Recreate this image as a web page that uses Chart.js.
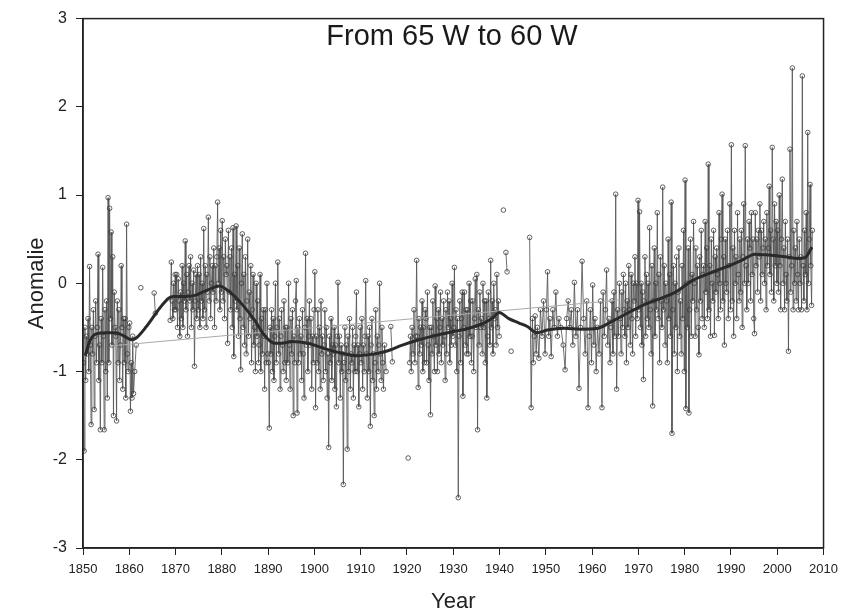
<!DOCTYPE html>
<html>
<head>
<meta charset="utf-8">
<script src="https://cdn.jsdelivr.net/npm/chart.js@4.4.1/dist/chart.umd.min.js"></script>
<style>
  html, body { margin: 0; padding: 0; background: #ffffff; }
  #wrap { width: 845px; height: 615px; }
</style>
</head>
<body>
<div id="wrap"><canvas id="c" width="845" height="615"></canvas></div>
<script>
// ---- Data ----
const chartTitle = "From 65 W to 60 W";
const xTitle = "Year";
const yTitle = "Anomalie";
const xTicks = [1850, 1860, 1870, 1880, 1890, 1900, 1910, 1920, 1930, 1940, 1950, 1960, 1970, 1980, 1990, 2000, 2010];
const yTicks = [-3, -2, -1, 0, 1, 2, 3];

// Monthly-ish anomalies, one inner list per year (null = no data / gap)
const d1850 = [
  [-0.9, -1.9, -0.5, -1.1, -0.6, -0.8],
  [-0.4, -1.0, 0.19, -0.7, -1.6, -0.5],
  [-0.8, -0.3, -1.43, -0.6, -0.2, -0.9],
  [-0.5, 0.33, -1.1, -0.7, -1.66, -0.4],
  [-0.9, 0.18, -0.6, -1.66, -0.3, -1.0],
  [-0.2, -1.3, 0.97, -0.9, 0.85, -0.4],
  [0.58, -0.7, 0.3, -1.5, -0.1, -0.5],
  [-0.6, -1.56, -0.2, -0.9, -0.3, -1.1],
  [-0.7, 0.2, -0.5, -1.2, -0.4, -0.9],
  [-0.4, -1.3, 0.67, -0.8, -1.0, -0.5]
];
const d1860 = [
  [-0.45, -1.45, -0.9, -1.3, -0.6, -1.25],
  [-1.0, -0.7, null],
  [null, -0.05, null],
  [],
  [],
  [null, -0.11, -0.34, null],
  [],
  [],
  [null, null, -0.42],
  [0.24, -0.2, -0.4, 0.0, -0.3, 0.1]
];
const d1870 = [
  [-0.3, 0.1, -0.5, 0.05, -0.2, -0.6],
  [-0.1, -0.4, 0.2, -0.5, 0.0, -0.2],
  [0.48, -0.3, 0.1, -0.6, -0.1, 0.2],
  [-0.2, 0.3, -0.5, 0.0, -0.3, 0.15],
  [-0.94, -0.2, 0.1, -0.4, 0.2, -0.3],
  [0.1, -0.5, 0.3, -0.2, 0.0, -0.4],
  [0.62, -0.3, 0.2, -0.5, 0.1, -0.1],
  [0.75, -0.2, 0.3, -0.4, 0.0, 0.2],
  [-0.1, 0.4, -0.5, 0.2, -0.2, 0.3],
  [0.92, 0.0, 0.4, -0.3, 0.6, -0.1]
];
const d1880 = [
  [0.71, -0.2, 0.3, -0.4, 0.5, 0.1],
  [0.2, -0.68, 0.6, -0.1, 0.3, -0.3],
  [0.4, -0.5, 0.63, -0.83, 0.1, -0.2],
  [0.65, -0.3, 0.2, -0.6, 0.4, -0.4],
  [-0.98, 0.0, 0.56, -0.5, 0.1, -0.7],
  [0.3, -0.8, -0.2, 0.5, -0.6, -0.1],
  [-0.4, 0.2, -0.9, -0.3, 0.1, -0.7],
  [-0.5, -1.0, 0.0, -0.6, -0.2, -0.9],
  [-0.7, 0.1, -1.0, -0.4, -0.8, -0.3],
  [-0.6, -1.2, -0.3, -0.9, 0.0, -0.8]
];
const d1890 = [
  [-0.9, -1.64, -0.5, -0.8, -0.3, -1.0],
  [-0.4, -1.1, -0.6, 0.0, -0.9, -0.5],
  [0.24, -0.8, -0.4, -1.2, -0.6, -0.3],
  [-0.7, -1.0, -0.2, -0.9, -0.5, -1.1],
  [-0.5, -0.9, 0.0, -0.7, -1.2, -0.4],
  [-0.8, -0.3, -1.5, -0.6, -0.9, -0.2],
  [0.03, -1.47, -0.5, -0.9, -0.4, -0.8],
  [-0.6, -1.1, -0.3, -0.8, -1.3, -0.5],
  [0.34, -0.7, -0.4, -1.0, -0.6, -0.2],
  [-0.7, -0.4, -1.2, -0.6, -0.9, -0.3]
];
const d1900 = [
  [0.13, -1.41, -0.6, -0.9, -0.3, -1.0],
  [-0.5, -1.2, -0.2, -0.8, -0.6, -1.1],
  [-0.7, -0.3, -1.0, -0.5, -1.3, -0.8],
  [-1.86, -0.6, -0.9, -0.4, -1.1, -0.7],
  [-0.8, -0.5, -1.2, -0.7, -1.4, -0.6],
  [0.01, -0.9, -0.6, -1.3, -0.7, -1.0],
  [-0.8, -2.28, -0.9, -0.5, -1.1, -0.7],
  [-1.88, -0.6, -1.0, -0.4, -1.2, -0.8],
  [-0.9, -0.5, -1.3, -0.7, -1.0, -0.6],
  [-0.1, -1.0, -0.7, -1.4, -0.8, -0.5]
];
const d1910 = [
  [-0.9, -0.4, -1.2, -0.7, -1.0, -0.6],
  [0.03, -0.8, -1.3, -0.6, -1.0, -0.5],
  [-1.62, -0.7, -0.4, -1.1, -0.8, -1.5],
  [-0.9, -0.3, -1.2, -0.6, -1.0, -0.7],
  [0.0, -0.8, -1.1, -0.5, -0.9, -1.2],
  [-0.7, -1.0, null],
  [null, -0.49, -0.89],
  [],
  [],
  []
];
const d1920 = [
  [null, -1.98, null, -0.9, -0.6, -1.0],
  [-0.5, -0.8, -0.3, -0.9, -0.6],
  [0.26, -0.6, -1.18, -0.4, -0.8, -0.5],
  [-0.7, -0.2, -1.0, -0.5, -0.9, -0.3],
  [-0.4, -0.9, -0.1, -0.7, -1.1, -0.5],
  [-1.49, -0.5, -0.8, -0.2, -0.6, -1.0],
  [-0.03, -0.7, -0.4, -1.0, -0.3, -0.8],
  [-0.5, -0.1, -0.9, -0.4, -0.7, -0.2],
  [-0.6, -1.1, -0.3, -0.8, -0.1, -0.5],
  [-0.2, -0.9, -0.4, -0.7, 0.0, -0.6]
];
const d1930 = [
  [-0.5, 0.18, -0.7, -0.3, -1.0, -0.4],
  [-2.43, -0.6, -0.2, -0.9, -0.4, -0.1],
  [-1.28, -0.5, -0.1, -0.7, -0.3, -0.8],
  [-0.3, -0.8, 0.0, -0.6, -0.2, -0.9],
  [-0.6, -0.2, -1.0, -0.4, 0.05, -0.5],
  [0.1, -1.66, -0.3, -0.7, -0.1, -0.5],
  [-0.4, -0.8, 0.0, -0.5, -0.2, -0.9],
  [-0.2, -1.3, -0.6, -0.1, -0.4, -0.7],
  [0.26, -0.5, -0.2, -0.8, 0.0, -0.4],
  [-0.3, -0.7, 0.1, -0.5, -0.2, -0.6]
];
const d1940 = [
  [null, null, 0.83],
  [null, 0.35, 0.13, null],
  [null, -0.77, null],
  [],
  [],
  [],
  [null, 0.52, -1.41],
  [-0.4, -0.9, -0.6, -0.37, -0.8],
  [-0.5, -0.85, -0.3],
  [-0.6, -0.2, -0.8]
];
const d1950 = [
  [-0.3, 0.13, -0.6, -0.4],
  [-0.83, -0.3, -0.5],
  [-0.1, -0.6, -0.4],
  [-0.5, -0.7],
  [-0.98, -0.4, -0.2],
  [-0.5, -0.3, -0.7],
  [0.01, -0.6, -0.3],
  [-1.19, -0.5, 0.25],
  [-0.4, -0.8, -0.2],
  [-1.41, -0.6, -0.3, -0.9]
];
const d1960 = [
  [-0.02, -0.7, -0.4, -1.0],
  [-0.5, -0.8, -0.2],
  [-1.41, -0.1, -0.6, -0.3],
  [0.15, -0.7, -0.4, -0.9],
  [-0.5, -0.2, -0.8, -0.1, -0.6],
  [1.01, -1.2, -0.3, -0.6, 0.0],
  [-0.4, -0.8, -0.1, -0.5, 0.1, -0.3],
  [-0.6, 0.0, -0.9, -0.2, -0.5, 0.2],
  [-0.3, -0.7, 0.1, -0.4, -0.8, 0.0],
  [-0.2, 0.3, -0.6, 0.0, -0.4, 0.94]
];
const d1970 = [
  [-0.3, 0.81, -0.5, 0.0, -0.7, -0.1],
  [-1.09, -0.2, 0.3, -0.6, 0.1, -0.4],
  [0.0, -0.5, 0.63, -0.3, -0.8, 0.2],
  [-1.39, -0.2, 0.4, -0.6, 0.0, -0.3],
  [0.8, -0.4, 0.1, -0.9, 0.3, -0.2],
  [-0.5, 1.09, -0.3, 0.2, -0.7, 0.0],
  [-0.2, -0.9, 0.5, -0.4, 0.1, -0.6],
  [0.92, -1.7, -0.3, 0.2, -0.8, 0.0],
  [-0.5, 0.3, -1.0, -0.1, 0.4, -0.6],
  [-0.2, -0.8, 0.2, -0.4, 0.6, -1.0]
];
const d1980 = [
  [1.17, -1.42, 0.0, -0.5, 0.4, -1.47],
  [-0.3, 0.5, -0.6, 0.1, -0.2, 0.7],
  [0.0, -0.6, 0.4, -0.3, 0.2, -0.5],
  [-0.81, 0.3, -0.2, 0.6, -0.4, 0.1],
  [0.2, -0.5, 0.7, -0.1, 0.4, -0.4],
  [1.35, -0.3, 0.2, -0.6, 0.5, 0.0],
  [-0.2, 0.6, -0.59, 0.3, -0.1, 0.4],
  [0.1, -0.4, 0.8, 0.0, -0.3, 0.5],
  [1.01, -0.2, 0.3, -0.7, 0.5, 0.0],
  [-0.1, 0.6, -0.4, 0.2, 0.9, -0.3]
];
const d1990 = [
  [1.57, -0.2, 0.4, -0.6, 0.6, 0.0],
  [0.3, -0.4, 0.8, 0.1, -0.2, 0.5],
  [-0.1, 0.6, -0.5, 0.3, 0.9, 0.0],
  [1.56, 0.2, -0.3, 0.5, 0.0, 0.7],
  [0.4, -0.2, 0.8, 0.1, 0.5, -0.4],
  [-0.57, 0.8, 0.2, 0.5, -0.1, 0.6],
  [0.3, 0.9, -0.2, 0.6, 0.1, 0.4],
  [0.7, 0.0, 0.5, -0.3, 0.8, 0.2],
  [0.4, 1.1, 0.1, 0.6, -0.1, 1.54],
  [0.5, -0.2, 0.9, 0.2, 0.7, 0.0]
];
const d2000 = [
  [0.6, -0.1, 1.0, 0.2, -0.3, 0.5],
  [1.18, 0.0, 0.4, -0.3, 0.7, 0.1],
  [-0.2, 0.5, -0.77, 0.3, 1.52, -0.1],
  [0.2, 2.44, -0.3, 0.6, 0.0, 0.4],
  [-0.2, 0.7, 0.1, -0.3, 0.5, 0.0],
  [0.3, -0.3, 2.35, 0.2, -0.2, 0.6],
  [0.1, 0.8, -0.3, 1.71, 0.0, 0.5],
  [1.12, 0.2, -0.25, 0.6, null, null]
];
const decadeStarts = [1850, 1860, 1870, 1880, 1890, 1900, 1910, 1920, 1930, 1940, 1950, 1960, 1970, 1980, 1990, 2000];
const decades = [d1850, d1860, d1870, d1880, d1890, d1900, d1910, d1920, d1930, d1940, d1950, d1960, d1970, d1980, d1990, d2000];

// Smoothed curve (thick dark line)
const smoothYears = [1850.5, 1851.5, 1853, 1855, 1857, 1858.6, 1860.5, 1861.5, 1863.7, 1866.6, 1868.5, 1869.5, 1872, 1874, 1876.7, 1879.5, 1881, 1882.8, 1884.9, 1887.1, 1889.2, 1891.4, 1893, 1895, 1898.6, 1902.2, 1905.8, 1909.3, 1912.9, 1915.5, 1919, 1922.6, 1926.2, 1929.8, 1933.4, 1937, 1938.8, 1939.9, 1942, 1944.2, 1946, 1948.1, 1950.3, 1953.9, 1957.5, 1961.1, 1964.7, 1968.3, 1971.8, 1975.4, 1978, 1981.6, 1985.2, 1988.7, 1992.3, 1995.2, 1998.1, 2001.7, 2004.5, 2006, 2007.5];
const smoothValues = [-0.82, -0.65, -0.57, -0.56, -0.56, -0.59, -0.64, -0.62, -0.49, -0.28, -0.17, -0.15, -0.15, -0.14, -0.08, -0.03, -0.07, -0.15, -0.27, -0.42, -0.59, -0.68, -0.68, -0.66, -0.68, -0.74, -0.79, -0.82, -0.80, -0.77, -0.70, -0.64, -0.59, -0.55, -0.51, -0.44, -0.38, -0.33, -0.40, -0.45, -0.49, -0.56, -0.53, -0.51, -0.52, -0.51, -0.42, -0.32, -0.23, -0.16, -0.10, 0.03, 0.11, 0.18, 0.26, 0.33, 0.32, 0.30, 0.28, 0.29, 0.41];

// Straight trend line (thin grey)
const trendYears = [1856, 1966];
const trendValues = [-0.71, -0.19];

// ---- Build point lists ----
const monthly = [];
decades.forEach((dec, di) => {
  dec.forEach((vals, yi) => {
    const year = decadeStarts[di] + yi;
    if (vals.length === 0) { monthly.push({ x: year + 0.5, y: null }); return; }
    vals.forEach((v, k) => {
      monthly.push({ x: year + (k + 0.5) / vals.length, y: v });
    });
  });
});
const smooth = smoothYears.map((x, i) => ({ x, y: smoothValues[i] }));
const trend = trendYears.map((x, i) => ({ x, y: trendValues[i] }));

const FONT = "'Liberation Sans', Arial, Helvetica, sans-serif";

const framePlugin = {
  id: 'frame',
  afterDatasetsDraw(chart) {
    const { ctx, chartArea: a } = chart;
    ctx.save();
    ctx.strokeStyle = '#222';
    ctx.lineWidth = 1.5;
    ctx.strokeRect(a.left, a.top, a.right - a.left, a.bottom - a.top);
    ctx.fillStyle = '#1a1a1a';
    ctx.font = "29px " + FONT;
    ctx.textAlign = 'center';
    ctx.textBaseline = 'middle';
    ctx.fillText(chartTitle, 452, 37);
    ctx.restore();
  }
};

Chart.defaults.font.family = FONT;
Chart.defaults.color = '#222';

new Chart(document.getElementById('c'), {
  type: 'scatter',
  data: {
    datasets: [
      {
        label: 'smooth', data: smooth, showLine: true, order: 0,
        borderColor: '#2a2a2a', borderWidth: 3, pointRadius: 0,
        cubicInterpolationMode: 'monotone', fill: false
      },
      {
        label: 'trend', data: trend, showLine: true, order: 1,
        borderColor: '#a9a9a9', borderWidth: 1, pointRadius: 0, fill: false
      },
      {
        label: 'monthly', data: monthly, showLine: true, spanGaps: false, order: 2,
        borderColor: 'rgba(85,85,85,0.85)', borderWidth: 1,
        pointRadius: 2.3, pointBorderWidth: 1,
        pointBorderColor: 'rgba(60,60,60,0.8)', pointBackgroundColor: 'rgba(255,255,255,0)',
        fill: false
      }
    ]
  },
  options: {
    responsive: false,
    animation: false,
    devicePixelRatio: 1,
    layout: { padding: { top: 16, right: 20, bottom: 0, left: 0 } },
    plugins: { legend: { display: false }, tooltip: { enabled: false }, title: { display: false } },
    scales: {
      x: {
        type: 'linear', min: 1850, max: 2010,
        afterBuildTicks: (s) => { s.ticks = xTicks.map(v => ({ value: v })); },
        afterFit: (s) => { s.height = 67; },
        grid: { drawOnChartArea: false, drawTicks: true, tickLength: 7, color: '#222', lineWidth: 1 },
        border: { display: true, color: '#222', width: 1.5 },
        ticks: { font: { size: 13 }, color: '#222', padding: 7, maxRotation: 0, autoSkip: false,
                 callback: (v) => String(v) },
        title: { display: true, text: xTitle, font: { size: 22 }, color: '#222', padding: { top: 0, bottom: 0 } }
      },
      y: {
        type: 'linear', min: -3, max: 3,
        afterBuildTicks: (s) => { s.ticks = yTicks.map(v => ({ value: v })); },
        afterFit: (s) => { s.width = 83; },
        grid: { drawOnChartArea: false, drawTicks: true, tickLength: 7, color: '#222', lineWidth: 1 },
        border: { display: true, color: '#222', width: 1.5 },
        ticks: { font: { size: 16 }, color: '#222', padding: 9, autoSkip: false,
                 callback: (v) => String(v) },
        title: { display: true, text: yTitle, font: { size: 22 }, color: '#222', padding: { top: 24, bottom: 0 } }
      }
    }
  },
  plugins: [framePlugin]
});
</script>
</body>
</html>
